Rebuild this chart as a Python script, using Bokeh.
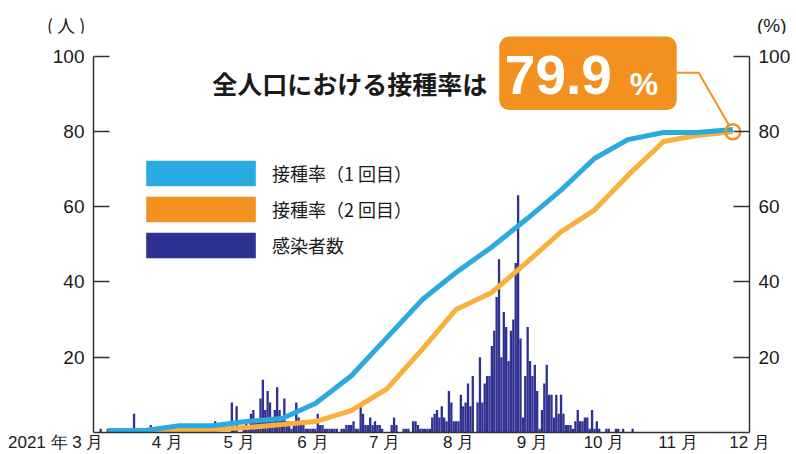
from bokeh.plotting import figure
from bokeh.layouts import column
from bokeh.models import (Range1d, LinearAxis, FixedTicker, Label, BoxAnnotation,
                          Legend, LegendItem, ColumnDataSource, Div)
from bokeh.embed import file_html
from bokeh.resources import INLINE

# ---------------- data ----------------
# x = days since 2021-03-01
month_ticks = [0, 31, 61, 92, 122, 153, 184, 214, 245, 275]
month_labels = ["2021 年 3 月", "4 月", "5 月", "6 月", "7 月", "8 月", "9 月", "10 月", "11 月", "12 月"]
y_ticks = [20, 40, 60, 80, 100]
left_unit = "( 人 )"
right_unit = "(%)"

# daily infections (persons), day 0 = Mar 1
cases = [
    0, 0, 0, 1, 0, 0, 1, 0, 0, 0,
    0, 0, 0, 0, 0, 0, 0, 5, 0, 0,
    0, 0, 0, 0, 2, 0, 0, 0, 0, 0,
    0, 0, 0, 0, 0, 0, 0, 0, 0, 0,
    0, 0, 0, 0, 2, 2, 2, 1, 0, 0,
    0, 3, 0, 0, 0, 0, 0, 0, 8, 1,
    7, 0, 0, 1, 3, 2, 5, 6, 3, 3,
    9, 14, 6, 11, 8, 3, 6, 12, 6, 4,
    9, 3, 3, 1, 2, 8, 4, 2, 2, 1,
    1, 1, 1, 1, 5, 2, 2, 1, 1, 1,
    1, 1, 1, 0, 1, 1, 2, 2, 2, 3,
    1, 1, 7, 5, 2, 2, 4, 2, 3, 2,
    2, 1, 0, 0, 0, 2, 4, 2, 0, 0,
    1, 1, 1, 0, 3, 3, 2, 1, 1, 1,
    1, 1, 4, 5, 6, 4, 7, 4, 3, 11,
    8, 3, 3, 3, 10, 7, 8, 13, 7, 15,
    0, 8, 20, 8, 13, 15, 15, 23, 27, 36,
    46, 20, 32, 28, 19, 27, 30, 45, 63, 25,
    4, 15, 28, 19, 15, 18, 11, 1, 6, 13,
    18, 10, 10, 4, 10, 5, 10, 5, 2, 2,
    2, 1, 3, 6, 3, 3, 4, 4, 1, 6,
    1, 3, 1, 0, 0, 1, 1, 0, 0, 1,
    1, 0, 1, 0, 0, 0, 1,
]
case_days = list(range(len(cases)))

# vaccination rate (% of total population)
vacc_days = [6, 21, 36, 50, 64, 79, 93, 108, 123, 138, 152, 167, 182, 196, 210, 224, 239, 253, 268]
dose1 = [0.5, 0.5, 1.8, 1.8, 2.9, 3.7, 7.7, 15.0, 25.2, 35.4, 42.5, 49.3, 56.9, 64.4, 72.8, 77.8, 79.7, 79.7, 80.5]
dose2 = [0.0, 0.2, 0.5, 0.8, 1.3, 2.1, 2.9, 5.8, 11.6, 22.2, 32.7, 37.2, 45.4, 53.3, 59.1, 68.3, 77.3, 78.9, 79.9]

legend_labels = ["接種率（1 回目）", "接種率（2 回目）", "感染者数"]
callout_text = "全人口における接種率は"

# ---------------- style ----------------
BLUE = "#29abe2"
ORANGE_LINE = "#fbb03b"
ORANGE = "#f29120"
NAVY = "#2e3192"
AXIS = "#333333"
TXT = "#1a1a1a"
LATIN = "Liberation Sans"
CJK = "Noto Sans CJK JP"

W = 793
HEAD_H = 33
MAIN_H = 454 - HEAD_H
FL, FR = 93, 751          # frame left / right (page px)
FT, FB = 33, 434          # frame top / bottom (page px)
PX_X = (FR - FL) / 275.0
PX_Y = (FB - FT) / 106.0


def dx(px):
    return (px - FL) / PX_X


def dy(py):
    return (FB - py) / PX_Y


# ---------------- header (unit labels) ----------------
head_html = (
    f'<div style="position:relative;width:{W}px;height:{HEAD_H}px;color:{TXT};margin:0;padding:0">'
    f'<span style="position:absolute;left:47px;top:15px;font-family:\'{CJK}\';'
    f'font-size:18px;line-height:20px;white-space:pre">{left_unit}</span>'
    f'<span style="position:absolute;left:757px;top:16px;font-family:\'{LATIN}\';'
    f'font-size:19px;line-height:20px;white-space:pre">{right_unit}</span>'
    f'</div>'
)
head = Div(text=head_html, width=W, height=HEAD_H, margin=0)

# ---------------- main chart ----------------
p = figure(width=W, height=MAIN_H, x_range=Range1d(0, 275), y_range=Range1d(0, 106),
           output_backend="svg", toolbar_location=None,
           min_border_left=FL, min_border_right=W - FR, min_border_top=0, min_border_bottom=20,
           x_axis_type=None, y_axis_type=None)
p.outline_line_color = None
p.background_fill_color = "white"

first = month_labels[0] + "\u00a0" * 16   # pushes the year label left of the first tick
overrides = {t: l for t, l in zip(month_ticks, month_labels)}
overrides[month_ticks[0]] = first
xaxis = LinearAxis(ticker=FixedTicker(ticks=month_ticks), major_label_overrides=overrides)
xaxis.major_tick_in = 0
xaxis.major_tick_out = 0
xaxis.minor_tick_line_color = None
xaxis.axis_line_color = AXIS
xaxis.axis_line_width = 1.5
xaxis.major_label_text_font = LATIN
xaxis.major_label_text_font_size = "17px"
xaxis.major_label_text_color = TXT
xaxis.major_label_standoff = 0
p.add_layout(xaxis, "below")

for side in ("left", "right"):
    ax = LinearAxis(ticker=FixedTicker(ticks=y_ticks), bounds=(0, 100))
    ax.major_tick_in = 16
    ax.major_tick_out = 0
    ax.major_tick_line_color = AXIS
    ax.major_tick_line_width = 1.5
    ax.minor_tick_line_color = None
    ax.axis_line_color = AXIS
    ax.axis_line_width = 1.5
    ax.major_label_text_font = LATIN
    ax.major_label_text_font_size = "19px"
    ax.major_label_text_color = TXT
    ax.major_label_standoff = 9
    p.add_layout(ax, side)

# bars
bars = p.vbar(x=case_days, top=cases, width=0.97, fill_color=NAVY, line_color=None)

# lines
p.line(vacc_days, dose2, line_color=ORANGE_LINE, line_width=5)
p.line(vacc_days, dose1, line_color=BLUE, line_width=5)

# highlight circle on last 2nd-dose value
p.scatter([vacc_days[-1]], [dose2[-1]], marker="circle", size=15, fill_color=None,
          line_color=ORANGE, line_width=2.5)

# leader line from callout to circle
cx, cy = vacc_days[-1], dose2[-1]
corner_x, corner_y = dx(700), dy(72.5)
dxp, dyp = (cx - corner_x) * PX_X, (cy - corner_y) * PX_Y
ln = (dxp ** 2 + dyp ** 2) ** 0.5
end_x = cx - 7.5 * dxp / ln / PX_X
end_y = cy - 7.5 * dyp / ln / PX_Y
p.line([dx(678), corner_x, end_x], [corner_y, corner_y, end_y],
       line_color=ORANGE, line_width=2)

# callout box
box = BoxAnnotation(left=dx(500), right=dx(678), bottom=dy(110), top=dy(36),
                    fill_color=ORANGE, fill_alpha=1.0, line_color=None, border_radius=10)
p.add_layout(box)

p.add_layout(Label(x=dx(613), y=dy(75), text=f"{dose2[-1]:.1f}",
                   text_align="right", text_baseline="middle",
                   text_font=LATIN, text_font_style="bold",
                   text_font_size="55px", text_color="white"))
p.add_layout(Label(x=dx(631), y=dy(83.5), text="%",
                   text_align="left", text_baseline="middle",
                   text_font=LATIN, text_font_style="bold",
                   text_font_size="32px", text_color="white"))
p.add_layout(Label(x=dx(212), y=dy(83), text=callout_text,
                   text_align="left", text_baseline="middle",
                   text_font=CJK, text_font_style="bold",
                   text_font_size="25px", text_color=TXT))

# legend (swatches from off-screen dummy quads; area legend glyphs are drawn at 80 %)
dummy = dict(left=[-50], right=[-40], top=[1], bottom=[0])
r_b = p.quad(left="left", right="right", top="top", bottom="bottom",
             source=ColumnDataSource(dummy), fill_color=BLUE, line_color=None)
r_o = p.quad(left="left", right="right", top="top", bottom="bottom",
             source=ColumnDataSource(dummy), fill_color=ORANGE, line_color=None)
legend = Legend(items=[LegendItem(label=legend_labels[0], renderers=[r_b]),
                       LegendItem(label=legend_labels[1], renderers=[r_o]),
                       LegendItem(label=legend_labels[2], renderers=[bars])],
                location=(39, 171), glyph_width=137, glyph_height=32, label_height=26,
                spacing=4, padding=0, margin=0, label_standoff=3,
                border_line_color=None, background_fill_alpha=0,
                label_text_font=CJK, label_text_font_size="18px", label_text_color=TXT)
p.add_layout(legend)

layout = column(head, p, spacing=0)
open("out.html", "w").write(file_html(layout, INLINE))
